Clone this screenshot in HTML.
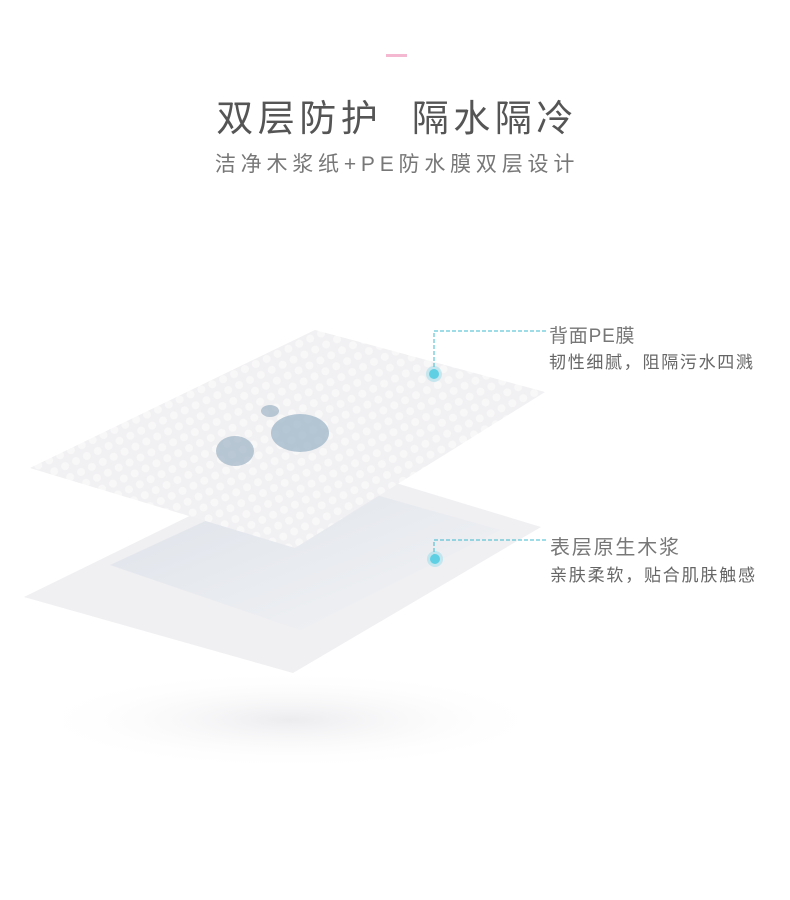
<!DOCTYPE html>
<html><head><meta charset="utf-8"><style>
body{margin:0;width:790px;height:900px;background:#fff;position:relative;overflow:hidden;font-family:"Liberation Sans","Noto Sans CJK SC",sans-serif}
.t{position:absolute;white-space:nowrap}
</style></head><body>
<div style="position:absolute;left:386px;top:54px;width:21px;height:3px;background:#f4b8d0"></div>
<div class="t" style="left:0;width:790px;text-align:center;top:88px;font-size:37px;color:#555;letter-spacing:4.5px;text-indent:4px">双层防护&nbsp;&nbsp;隔水隔冷</div>
<div class="t" style="left:0;width:790px;text-align:center;top:148px;font-size:21px;color:#777;letter-spacing:4.8px;text-indent:4px">洁净木浆纸+PE防水膜双层设计</div>
<svg width="790" height="900" style="position:absolute;left:0;top:0">
<defs>
<radialGradient id="sh" cx="50%" cy="50%" r="50%"><stop offset="0" stop-color="#ececef"/><stop offset="1" stop-color="#fff" stop-opacity="0"/></radialGradient>
<pattern id="dots" width="12" height="12" patternUnits="userSpaceOnUse" patternTransform="rotate(-25)"><rect width="12" height="12" fill="#f1f0f2"/><circle cx="6" cy="6" r="4" fill="#f9f8f9"/></pattern>
<linearGradient id="bl" x1="0" y1="0" x2="1" y2="1"><stop offset="0.2" stop-color="#dde3ea"/><stop offset="0.8" stop-color="#eef0f3"/></linearGradient>
</defs>
<ellipse cx="290" cy="720" rx="260" ry="50" fill="url(#sh)"/>
<polygon points="24,597 310,457 541,527 293,673" fill="#f0eff2"/>
<polygon points="110,565 305,475 500,530 300,630" fill="url(#bl)" opacity="0.8"/>
<polygon points="30,468 315,330 545,392 295,548" fill="url(#dots)"/>
<ellipse cx="235" cy="451" rx="19" ry="15" fill="#a9bccb" opacity="0.8"/>
<ellipse cx="300" cy="433" rx="29" ry="19" fill="#a4bacb" opacity="0.8"/>
<ellipse cx="270" cy="411" rx="9" ry="6" fill="#a9bccb" opacity="0.8"/>
<g stroke="#3cb8cf" stroke-width="1" stroke-dasharray="4,2" fill="none">
<path d="M546 331 H434 V372"/><path d="M546 540 H434 V558"/></g>
<circle cx="434" cy="374" r="8" fill="#5fd0e3" opacity="0.3"/><circle cx="434" cy="374" r="5" fill="#5fd0e3"/>
<circle cx="435" cy="559" r="8" fill="#5fd0e3" opacity="0.3"/><circle cx="435" cy="559" r="5" fill="#5fd0e3"/>
</svg>
<div class="t" style="left:549px;top:321px;font-size:19px;color:#777;letter-spacing:0.8px">背面PE膜</div>
<div class="t" style="left:549px;top:348px;font-size:17px;color:#666;letter-spacing:1.7px">韧性细腻，阻隔污水四溅</div>
<div class="t" style="left:550px;top:531px;font-size:20px;color:#777;letter-spacing:1.8px">表层原生木浆</div>
<div class="t" style="left:550px;top:561px;font-size:17px;color:#666;letter-spacing:1.8px">亲肤柔软，贴合肌肤触感</div>
</body></html>
